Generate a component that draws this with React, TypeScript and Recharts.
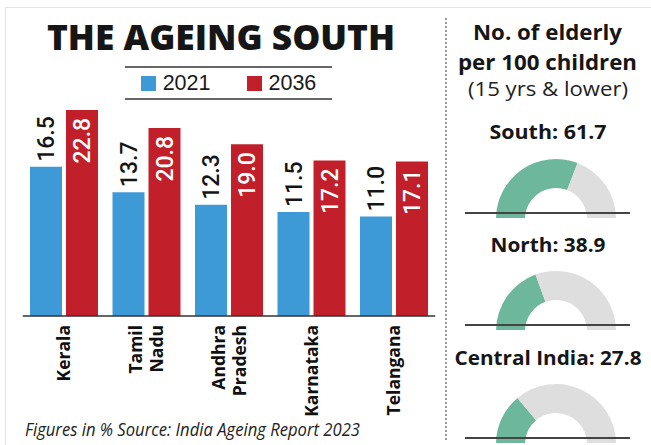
import { BarChart, Bar, XAxis, YAxis, LabelList, Legend, PieChart, Pie, Cell } from 'recharts';

const categories = ['Kerala', 'Tamil Nadu', 'Andhra Pradesh', 'Karnataka', 'Telangana'];
const values2021 = [16.5, 13.7, 12.3, 11.5, 11.0];
const values2036 = [22.8, 20.8, 19.0, 17.2, 17.1];
const seriesNames = ['2021', '2036'];

const regions = ['South', 'North', 'Central India'];
const elderlyPer100 = [61.7, 38.9, 27.8];

const BLUE = '#3d9ad7';
const RED = '#c1202b';
const GREEN = '#6db79d';
const GREY = '#dedede';
const SANS = "'Liberation Sans', Arial, sans-serif";
const NUM = "Roboto, 'Liberation Sans', Arial, sans-serif";
const HUMAN = "'Open Sans', 'Noto Sans', sans-serif";

const barData = categories.map((name, i) => ({ name, y2021: values2021[i], y2036: values2036[i] }));

// gauge layout (top of each small pie chart, baseline of its label)
const gaugeTops = [148, 260, 373];
const gaugeLabelY = [139, 252, 365];
const gaugeLabelW = [117, 115, 187];

const OutsideLabel = (props: any) => {
  const cx = Number(props.x) + Number(props.width) / 2;
  const y = Number(props.y) - 5;
  return (
    <text transform={`translate(${cx},${y}) rotate(-90)`} x={0} y={8} textAnchor="start"
      fill="#151515" fontSize={23} fontWeight={500} fontFamily={NUM}>
      {Number(props.value).toFixed(1)}
    </text>
  );
};

const InsideLabel = (props: any) => {
  const cx = Number(props.x) + Number(props.width) / 2;
  const y = Number(props.y) + 8;
  return (
    <text transform={`translate(${cx},${y}) rotate(-90)`} x={0} y={8} textAnchor="end"
      fill="#fff" fontSize={23} fontWeight={500} fontFamily={NUM}>
      {Number(props.value).toFixed(1)}
    </text>
  );
};

const CategoryTick = (props: any) => {
  const { x, y, payload } = props;
  const lines = String(payload.value).split(' ');
  return (
    <text transform={`translate(${x},${y}) rotate(-90)`} textAnchor="end" fontSize={17.5}
      fontWeight={700} fill="#111" fontFamily={HUMAN}>
      {lines.map((l, i) => (
        <tspan key={l} x={0} y={(i - (lines.length - 1) / 2) * 21 + 6}>{l}</tspan>
      ))}
    </text>
  );
};

const LegendBox = () => (
  <div style={{
    borderTop: '2px solid #666', borderBottom: '2px solid #666', height: 30,
    display: 'flex', alignItems: 'center', justifyContent: 'center', gap: 36,
  }}>
    {seriesNames.map((n, i) => (
      <div key={n} style={{ display: 'flex', alignItems: 'center' }}>
        <div style={{ width: 15, height: 15, background: i === 0 ? BLUE : RED, marginRight: 7 }} />
        <span style={{ fontFamily: SANS, fontSize: 21.5, color: '#1a1a1a', lineHeight: '22px' }}>{n}</span>
      </div>
    ))}
  </div>
);

const Gauge = ({ value, top }: { value: number; top: number }) => {
  const data = [{ name: 'elderly', value }, { name: 'rest', value: 100 - value }];
  return (
    <div style={{ position: 'absolute', left: 481, top }}>
      <PieChart width={140} height={70}>
        <Pie data={data} dataKey="value" cx={70} cy={66} startAngle={180} endAngle={0}
          innerRadius={31} outerRadius={60} stroke="none" isAnimationActive={false}>
          <Cell fill={GREEN} />
          <Cell fill={GREY} />
        </Pie>
      </PieChart>
    </div>
  );
};

export default function App() {
  return (
    <div style={{ position: 'absolute', left: 0, top: 0, width: 651, height: 445, background: '#fff', overflow: 'hidden' }}>
      {/* frame */}
      <div style={{ position: 'absolute', left: 5, top: 7, width: 646, height: 1, background: '#e4e4e4' }} />
      <div style={{ position: 'absolute', left: 5, top: 7, width: 1, height: 438, background: '#e4e4e4' }} />
      <div style={{ position: 'absolute', left: 445, top: 18, height: 422, borderLeft: '2px dotted #9a9a9a' }} />

      <div style={{ position: 'absolute', left: 0, top: 0 }}>
        <BarChart width={460} height={445} data={barData} barGap={4} barCategoryGap={7.25}
          margin={{ top: 90, right: 24.75, left: 22.75, bottom: 0 }}>
          <XAxis dataKey="name" height={129} tickLine={false} tickSize={0} tickMargin={9}
            axisLine={{ stroke: '#333', strokeWidth: 1.5 }} tick={<CategoryTick />} interval={0} />
          <YAxis hide domain={[0, 25]} />
          <Legend verticalAlign="middle" align="center" layout="horizontal" content={<LegendBox />}
            wrapperStyle={{ position: 'absolute', top: 66, left: 125, width: 207, height: 34 }} />
          <Bar dataKey="y2021" name={seriesNames[0]} fill={BLUE} isAnimationActive={false}>
            <LabelList dataKey="y2021" content={<OutsideLabel />} />
          </Bar>
          <Bar dataKey="y2036" name={seriesNames[1]} fill={RED} isAnimationActive={false}>
            <LabelList dataKey="y2036" content={<InsideLabel />} />
          </Bar>
        </BarChart>
      </div>

      {elderlyPer100.map((v, i) => (
        <Gauge key={regions[i]} value={v} top={gaugeTops[i]} />
      ))}
      {gaugeTops.map((t) => (
        <div key={t} style={{ position: 'absolute', left: 465, top: t + 64, width: 165, height: 2, background: '#444' }} />
      ))}

      <svg width={651} height={445} style={{ position: 'absolute', left: 0, top: 0, pointerEvents: 'none' }}>
        <text x={47} y={50} fontFamily={HUMAN} fontWeight={800} fontSize={35} fill="#161616"
          textLength={348} lengthAdjust="spacingAndGlyphs">THE AGEING SOUTH</text>
        <text x={25} y={436} fontFamily={HUMAN} fontStyle="italic" fontSize={18} fill="#222"
          textLength={335} lengthAdjust="spacingAndGlyphs">Figures in % Source: India Ageing Report 2023</text>

        <text x={547.5} y={40} textAnchor="middle" fontFamily={HUMAN} fontWeight={700} fontSize={21}
          fill="#161616" textLength={149} lengthAdjust="spacingAndGlyphs">No. of elderly</text>
        <text x={547.5} y={70} textAnchor="middle" fontFamily={HUMAN} fontWeight={700} fontSize={21}
          fill="#161616" textLength={179} lengthAdjust="spacingAndGlyphs">per 100 children</text>
        <text x={548} y={96} textAnchor="middle" fontFamily={HUMAN} fontSize={20}
          fill="#222" textLength={160} lengthAdjust="spacingAndGlyphs">(15 yrs &amp; lower)</text>

        {regions.map((r, i) => (
          <text key={r} x={548} y={gaugeLabelY[i]} textAnchor="middle" fontFamily={HUMAN} fontWeight={700}
            fontSize={20} fill="#161616" textLength={gaugeLabelW[i]} lengthAdjust="spacingAndGlyphs">
            {`${r}: ${elderlyPer100[i]}`}
          </text>
        ))}
      </svg>
    </div>
  );
}
